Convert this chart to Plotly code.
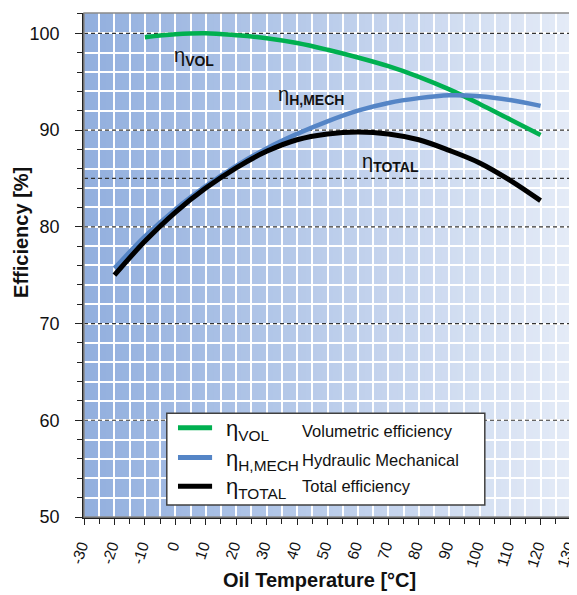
import plotly.graph_objects as go

# ---- data ----
temp_vol = [-10, 0, 10, 20, 30, 40, 50, 60, 70, 80, 90, 100, 110, 120]
eta_vol = [99.6, 99.9, 100.0, 99.8, 99.5, 99.0, 98.3, 97.5, 96.6, 95.5, 94.2, 92.7, 91.1, 89.5]

temp = [-20, -10, 0, 10, 20, 30, 40, 50, 60, 70, 80, 90, 100, 110, 120]
eta_mech = [75.7, 79.0, 81.8, 84.2, 86.3, 88.1, 89.6, 90.9, 92.0, 92.8, 93.3, 93.6, 93.5, 93.1, 92.5]
eta_total = [75.0, 78.5, 81.5, 84.0, 86.1, 87.8, 89.0, 89.6, 89.8, 89.6, 89.0, 87.9, 86.6, 84.8, 82.7]

ref_lines = [100, 90, 85, 80, 70, 60]

series_names = ["η<sub>VOL</sub>", "η<sub>H,MECH</sub>", "η<sub>TOTAL</sub>"]
series_desc = ["Volumetric efficiency", "Hydraulic Mechanical", "Total efficiency"]
series_colors = ["#00b050", "#5585c6", "#000000"]

x_range = [-30, 130]
y_range = [50, 102.1]
x_ticks = list(range(-30, 131, 10))
y_ticks = list(range(50, 101, 10))

FONT = "Liberation Sans, Arial, sans-serif"

fig = go.Figure()
# dashed reference lines (drawn under the curves)
for v in ref_lines:
    fig.add_trace(go.Scatter(x=x_range, y=[v, v], mode="lines", hoverinfo="skip",
                             line=dict(color="#333333", width=1.2, dash="4px,3px"), showlegend=False))
fig.add_trace(go.Scatter(x=temp_vol, y=eta_vol, mode="lines", line=dict(color=series_colors[0], width=4.5, shape="spline"), showlegend=False))
fig.add_trace(go.Scatter(x=temp, y=eta_mech, mode="lines", line=dict(color=series_colors[1], width=4.5, shape="spline"), showlegend=False))
fig.add_trace(go.Scatter(x=temp, y=eta_total, mode="lines", line=dict(color=series_colors[2], width=5, shape="spline"), showlegend=False))

shapes = []
# gradient background
N = 90
c0 = (146, 175, 222)
c1 = (228, 235, 247)
for i in range(N):
    t = i / (N - 1)
    col = tuple(int(round(c0[k] + (c1[k] - c0[k]) * t)) for k in range(3))
    shapes.append(dict(type="rect", xref="paper", yref="paper", x0=i / N, x1=(i + 1) / N + 0.002, y0=0, y1=1,
                       fillcolor="rgb(%d,%d,%d)" % col, line=dict(width=0), layer="below"))
# plot frame (gray)
shapes.append(dict(type="rect", xref="paper", yref="paper", x0=0, x1=1, y0=0, y1=1,
                   line=dict(color="#8a8a8a", width=1.5), layer="above"))
# custom legend box
shapes.append(dict(type="rect", xref="paper", yref="paper", x0=0.170, x1=0.823, y0=0.024, y1=0.206,
                   fillcolor="white", line=dict(color="#404040", width=1.5), layer="above"))
leg_y = [0.177, 0.118, 0.061]
desc_y = [0.170, 0.114, 0.061]
for i in range(3):
    shapes.append(dict(type="line", xref="paper", yref="paper", x0=0.193, x1=0.263, y0=leg_y[i], y1=leg_y[i],
                       line=dict(color=series_colors[i], width=5), layer="above"))

annotations = []
for i in range(3):
    annotations.append(dict(xref="paper", yref="paper", x=0.288, y=leg_y[i] - 0.004, xanchor="left", yanchor="middle",
                            text=series_names[i], showarrow=False, font=dict(family=FONT, size=22, color="#111")))
    annotations.append(dict(xref="paper", yref="paper", x=0.443, y=desc_y[i], xanchor="left", yanchor="middle",
                            text=series_desc[i], showarrow=False, font=dict(family=FONT, size=16.5, color="#111")))

# curve labels
curve_labels = ["η<sub><b>VOL</b></sub>", "η<sub><b>H,MECH</b></sub>", "η<sub><b>TOTAL</b></sub>"]
label_pos = [(0.181, 0.913), (0.394, 0.837), (0.567, 0.704)]
for txt, (px, py) in zip(curve_labels, label_pos):
    annotations.append(dict(xref="paper", yref="paper", x=px, y=py, xanchor="left", yanchor="middle",
                            text=txt, showarrow=False, font=dict(family=FONT, size=20, color="#111")))

# axis titles
annotations.append(dict(xref="paper", yref="paper", x=-0.128, y=0.565, xanchor="center", yanchor="middle",
                        text="<b>Efficiency [%]</b>", textangle=-90, showarrow=False,
                        font=dict(family=FONT, size=20, color="#111")))
annotations.append(dict(xref="paper", yref="paper", x=0.484, y=-0.125, xanchor="center", yanchor="middle",
                        text="<b>Oil Temperature [°C]</b>", showarrow=False,
                        font=dict(family=FONT, size=20, color="#111")))

# page body adds an 8px offset, so the figure is sized to fit the window
fig.update_layout(
    width=569, height=587,
    margin=dict(l=76, r=6, t=5, b=78, autoexpand=False),
    paper_bgcolor="white",
    plot_bgcolor="#c0d0ec",
    shapes=shapes,
    annotations=annotations,
    font=dict(family=FONT, color="#111"),
)
fig.update_xaxes(range=x_range, tickvals=x_ticks, ticktext=[str(v) for v in x_ticks], tickangle=-72,
                 automargin=False, ticklabeloverflow="allow", ticklabelshift=-3,
                 showgrid=True, gridcolor="white", gridwidth=1.5, zeroline=False,
                 showline=True, linecolor="#222", linewidth=1.5, ticks="outside", ticklen=6, tickcolor="#222",
                 tickfont=dict(family=FONT, size=15.5, color="#111"), ticklabelstandoff=6,
                 minor=dict(dtick=5, showgrid=True, gridcolor="white", gridwidth=1.5, ticks="outside", ticklen=5, tickcolor="#222"))
fig.update_yaxes(range=y_range, tickvals=y_ticks, ticktext=[str(v) for v in y_ticks],
                 automargin=False, ticklabeloverflow="allow",
                 showgrid=True, gridcolor="white", gridwidth=1.5, zeroline=False,
                 showline=True, linecolor="#222", linewidth=1.5, ticks="outside", ticklen=7, tickcolor="#222",
                 tickfont=dict(family=FONT, size=18, color="#111"), ticklabelstandoff=12,
                 minor=dict(dtick=2, showgrid=True, gridcolor="white", gridwidth=1.5, ticks="outside", ticklen=5, tickcolor="#222"))

fig.write_html("out.html")
